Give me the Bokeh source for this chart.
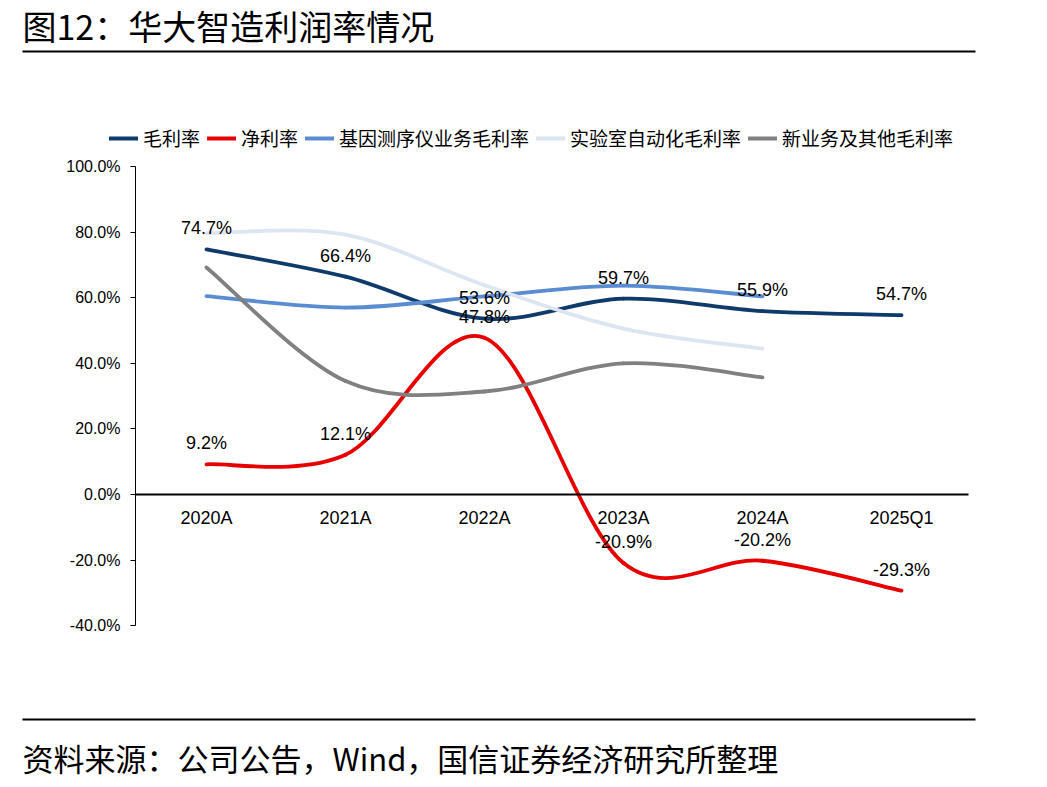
from bokeh.plotting import figure
from bokeh.models import (Range1d, LinearAxis, FixedTicker, PrintfTickFormatter,
                          Label, Legend, LegendItem, ColumnDataSource)
from bokeh.embed import file_html
from bokeh.resources import INLINE
from bokeh.core.properties import value

# ---------------- data ----------------
categories = ["2020A", "2021A", "2022A", "2023A", "2024A", "2025Q1"]
gross_margin = [74.7, 66.4, 53.6, 59.7, 55.9, 54.7]          # 毛利率
net_margin = [9.2, 12.1, 47.8, -20.9, -20.2, -29.3]          # 净利率
sequencer_margin = [60.5, 57.0, 60.4, 63.7, 60.4]            # 基因测序仪业务毛利率
lab_auto_margin = [79.7, 79.2, 63.8, 50.6, 44.5]             # 实验室自动化毛利率
other_margin = [69.2, 34.6, 31.4, 40.0, 35.7]                # 新业务及其他毛利率
y_ticks = [-40, -20, 0, 20, 40, 60, 80, 100]

series_names = ["毛利率", "净利率", "基因测序仪业务毛利率", "实验室自动化毛利率", "新业务及其他毛利率"]
series_values = [gross_margin, net_margin, sequencer_margin, lab_auto_margin, other_margin]
series_colors = ["#0E3A6C", "#E60000", "#5A8CD2", "#DCE6F2", "#808080"]
labeled = [True, True, False, False, False]

title_text = "图12：华大智造利润率情况"
source_text = "资料来源：公司公告，Wind，国信证券经济研究所整理"

# ---------------- layout geometry ----------------
W, H = 1047, 787
X0, DX = 206.0, 139.0      # pixel of first category, pixel step
Y0, DY = 494.0, 3.28       # pixel of 0%, pixels per 1%

def px2x(px):
    return (px - X0) / DX

def py2y(py):
    return (Y0 - py) / DY

CJK = "Noto Sans CJK SC"
LAT = "Liberation Sans"

p = figure(width=W, height=H,
           x_range=Range1d(px2x(0), px2x(W)),
           y_range=Range1d(py2y(H), py2y(0)),
           x_axis_location=None, y_axis_location=None,
           toolbar_location=None, output_backend="svg",
           min_border=0, outline_line_color=None,
           background_fill_color="white", border_fill_color="white")
p.grid.visible = False


def smooth_source(vals):
    n = len(vals)
    d = dict(x0=[], y0=[], x1=[], y1=[], cx0=[], cy0=[], cx1=[], cy1=[])
    for i in range(n - 1):
        ip = i - 1 if i > 0 else i
        inn = i + 2 if i + 2 < n else i + 1
        d["x0"].append(i)
        d["y0"].append(vals[i])
        d["x1"].append(i + 1)
        d["y1"].append(vals[i + 1])
        d["cx0"].append(i + (i + 1 - ip) / 6.0)
        d["cy0"].append(vals[i] + (vals[i + 1] - vals[ip]) / 6.0)
        d["cx1"].append(i + 1 - (inn - i) / 6.0)
        d["cy1"].append(vals[i + 1] - (vals[inn] - vals[i]) / 6.0)
    return ColumnDataSource(d)


legend_items = []
for name, vals, col in zip(series_names, series_values, series_colors):
    r = p.bezier(x0="x0", y0="y0", x1="x1", y1="y1", cx0="cx0", cy0="cy0",
                 cx1="cx1", cy1="cy1", source=smooth_source(vals),
                 line_color=col, line_width=3.8, line_cap="round")
    legend_items.append(LegendItem(label=name, renderers=[r]))

# data labels
for vals, lab in zip(series_values, labeled):
    if not lab:
        continue
    src = ColumnDataSource(dict(x=list(range(len(vals))), y=vals,
                                t=[f"{v:.1f}%" for v in vals]))
    p.text(x="x", y="y", text="t", source=src, y_offset=-21,
           text_align="center", text_baseline="middle",
           text_font=value(LAT), text_font_size="18px", text_color="black")

# y axis
yaxis = LinearAxis(fixed_location=px2x(135), bounds=(-40, 100),
                   ticker=FixedTicker(ticks=y_ticks),
                   formatter=PrintfTickFormatter(format="%.1f%%"),
                   major_tick_out=5, major_tick_in=0,
                   minor_tick_out=0, minor_tick_in=0,
                   axis_line_color="black", axis_line_width=1,
                   major_tick_line_color="black",
                   major_label_standoff=10,
                   major_label_text_font=LAT,
                   major_label_text_font_size="16px",
                   major_label_text_color="black")
p.add_layout(yaxis, "left")

# x axis at zero
xaxis = LinearAxis(fixed_location=0, bounds=(px2x(135), px2x(968)),
                   ticker=FixedTicker(ticks=list(range(len(categories)))),
                   major_label_overrides={i: c for i, c in enumerate(categories)},
                   major_tick_out=0, major_tick_in=0,
                   minor_tick_out=0, minor_tick_in=0,
                   axis_line_color="black", axis_line_width=2,
                   major_label_standoff=13,
                   major_label_text_font=LAT,
                   major_label_text_font_size="18px",
                   major_label_text_color="black")
p.add_layout(xaxis, "below")

# legend
legend = Legend(items=legend_items, orientation="horizontal",
                location=(109, H - 141 - 10),
                glyph_width=29, glyph_height=20, label_height=20,
                label_standoff=5, spacing=7, padding=0, margin=0,
                border_line_color=None, background_fill_alpha=0,
                label_text_font=CJK, label_text_font_size="19px",
                label_text_color="black")
p.add_layout(legend)

# title, rules and source
p.add_layout(Label(x=22, y=H - 25, x_units="screen", y_units="screen",
                   text=title_text, text_baseline="middle",
                   text_font=CJK, text_font_size="34px", text_color="black"))
p.segment(x0=[px2x(22)], x1=[px2x(975)], y0=[py2y(51)], y1=[py2y(51)],
          line_color="black", line_width=2)
p.segment(x0=[px2x(22)], x1=[px2x(975)], y0=[py2y(719)], y1=[py2y(719)],
          line_color="black", line_width=2)
p.add_layout(Label(x=22, y=H - 757, x_units="screen", y_units="screen",
                   text=source_text, text_baseline="middle",
                   text_font=CJK, text_font_size="31px", text_color="black"))

open("out.html", "w").write(file_html(p, INLINE))
